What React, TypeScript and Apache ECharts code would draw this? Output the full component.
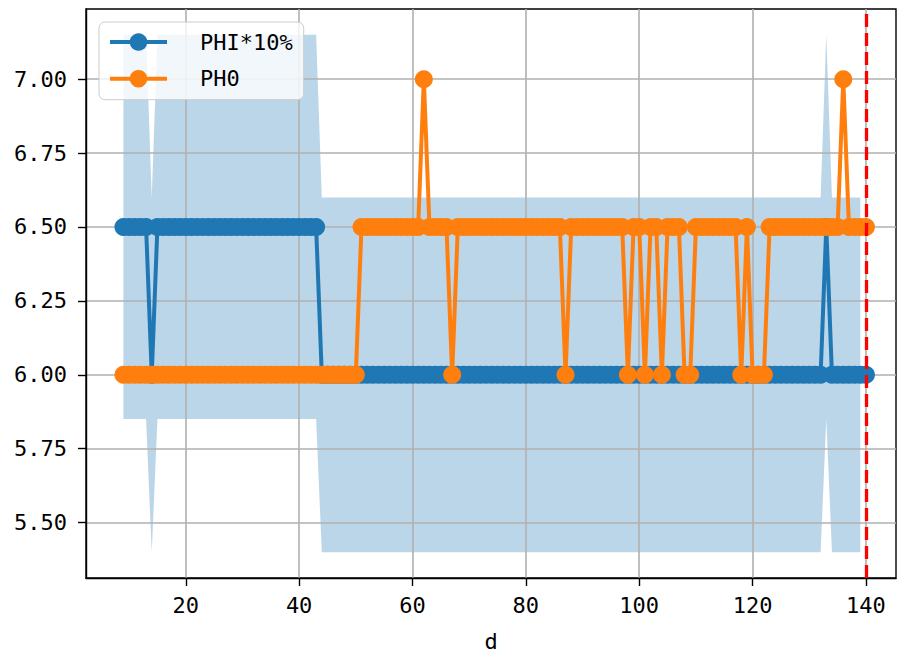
import React, { useEffect, useRef } from 'react';
import * as echarts from 'echarts';

// x values (d)
const days = [
  9, 10, 11, 12, 13, 14, 15, 16, 17, 18,
  19, 20, 21, 22, 23, 24, 25, 26, 27, 28,
  29, 30, 31, 32, 33, 34, 35, 36, 37, 38,
  39, 40, 41, 42, 43, 44, 45, 46, 47, 48,
  49, 50, 51, 52, 53, 54, 55, 56, 57, 58,
  59, 60, 61, 62, 63, 64, 65, 66, 67, 68,
  69, 70, 71, 72, 73, 74, 75, 76, 77, 78,
  79, 80, 81, 82, 83, 84, 85, 86, 87, 88,
  89, 90, 91, 92, 93, 94, 95, 96, 97, 98,
  99, 100, 101, 102, 103, 104, 105, 106, 107, 108,
  109, 110, 111, 112, 113, 114, 115, 116, 117, 118,
  119, 120, 121, 122, 123, 124, 125, 126, 127, 128,
  129, 130, 131, 132, 133, 134, 135, 136, 137, 138,
  139, 140,
];

// PHI*10%
const phi = [
  6.5, 6.5, 6.5, 6.5, 6.5, 6.0, 6.5, 6.5, 6.5, 6.5,
  6.5, 6.5, 6.5, 6.5, 6.5, 6.5, 6.5, 6.5, 6.5, 6.5,
  6.5, 6.5, 6.5, 6.5, 6.5, 6.5, 6.5, 6.5, 6.5, 6.5,
  6.5, 6.5, 6.5, 6.5, 6.5, 6.0, 6.0, 6.0, 6.0, 6.0,
  6.0, 6.0, 6.0, 6.0, 6.0, 6.0, 6.0, 6.0, 6.0, 6.0,
  6.0, 6.0, 6.0, 6.0, 6.0, 6.0, 6.0, 6.0, 6.0, 6.0,
  6.0, 6.0, 6.0, 6.0, 6.0, 6.0, 6.0, 6.0, 6.0, 6.0,
  6.0, 6.0, 6.0, 6.0, 6.0, 6.0, 6.0, 6.0, 6.0, 6.0,
  6.0, 6.0, 6.0, 6.0, 6.0, 6.0, 6.0, 6.0, 6.0, 6.0,
  6.0, 6.0, 6.0, 6.0, 6.0, 6.0, 6.0, 6.0, 6.0, 6.0,
  6.0, 6.0, 6.0, 6.0, 6.0, 6.0, 6.0, 6.0, 6.0, 6.0,
  6.0, 6.0, 6.0, 6.0, 6.0, 6.0, 6.0, 6.0, 6.0, 6.0,
  6.0, 6.0, 6.0, 6.0, 6.5, 6.0, 6.0, 6.0, 6.0, 6.0,
  6.0, 6.0,
];

// PH0
const ph0 = [
  6.0, 6.0, 6.0, 6.0, 6.0, 6.0, 6.0, 6.0, 6.0, 6.0,
  6.0, 6.0, 6.0, 6.0, 6.0, 6.0, 6.0, 6.0, 6.0, 6.0,
  6.0, 6.0, 6.0, 6.0, 6.0, 6.0, 6.0, 6.0, 6.0, 6.0,
  6.0, 6.0, 6.0, 6.0, 6.0, 6.0, 6.0, 6.0, 6.0, 6.0,
  6.0, 6.0, 6.5, 6.5, 6.5, 6.5, 6.5, 6.5, 6.5, 6.5,
  6.5, 6.5, 6.5, 7.0, 6.5, 6.5, 6.5, 6.5, 6.0, 6.5,
  6.5, 6.5, 6.5, 6.5, 6.5, 6.5, 6.5, 6.5, 6.5, 6.5,
  6.5, 6.5, 6.5, 6.5, 6.5, 6.5, 6.5, 6.5, 6.0, 6.5,
  6.5, 6.5, 6.5, 6.5, 6.5, 6.5, 6.5, 6.5, 6.5, 6.0,
  6.5, 6.5, 6.0, 6.5, 6.5, 6.0, 6.5, 6.5, 6.5, 6.0,
  6.0, 6.5, 6.5, 6.5, 6.5, 6.5, 6.5, 6.5, 6.5, 6.0,
  6.5, 6.0, 6.0, 6.0, 6.5, 6.5, 6.5, 6.5, 6.5, 6.5,
  6.5, 6.5, 6.5, 6.5, 6.5, 6.5, 6.5, 7.0, 6.5, 6.5,
  6.5, 6.5,
];

// shaded band (x = 9 .. 139)
const bandLow = [
  5.85, 5.85, 5.85, 5.85, 5.85, 5.4, 5.85, 5.85, 5.85, 5.85,
  5.85, 5.85, 5.85, 5.85, 5.85, 5.85, 5.85, 5.85, 5.85, 5.85,
  5.85, 5.85, 5.85, 5.85, 5.85, 5.85, 5.85, 5.85, 5.85, 5.85,
  5.85, 5.85, 5.85, 5.85, 5.85, 5.4, 5.4, 5.4, 5.4, 5.4,
  5.4, 5.4, 5.4, 5.4, 5.4, 5.4, 5.4, 5.4, 5.4, 5.4,
  5.4, 5.4, 5.4, 5.4, 5.4, 5.4, 5.4, 5.4, 5.4, 5.4,
  5.4, 5.4, 5.4, 5.4, 5.4, 5.4, 5.4, 5.4, 5.4, 5.4,
  5.4, 5.4, 5.4, 5.4, 5.4, 5.4, 5.4, 5.4, 5.4, 5.4,
  5.4, 5.4, 5.4, 5.4, 5.4, 5.4, 5.4, 5.4, 5.4, 5.4,
  5.4, 5.4, 5.4, 5.4, 5.4, 5.4, 5.4, 5.4, 5.4, 5.4,
  5.4, 5.4, 5.4, 5.4, 5.4, 5.4, 5.4, 5.4, 5.4, 5.4,
  5.4, 5.4, 5.4, 5.4, 5.4, 5.4, 5.4, 5.4, 5.4, 5.4,
  5.4, 5.4, 5.4, 5.4, 5.85, 5.4, 5.4, 5.4, 5.4, 5.4,
  5.4,
];
const bandHigh = [
  7.15, 7.15, 7.15, 7.15, 7.15, 6.6, 7.15, 7.15, 7.15, 7.15,
  7.15, 7.15, 7.15, 7.15, 7.15, 7.15, 7.15, 7.15, 7.15, 7.15,
  7.15, 7.15, 7.15, 7.15, 7.15, 7.15, 7.15, 7.15, 7.15, 7.15,
  7.15, 7.15, 7.15, 7.15, 7.15, 6.6, 6.6, 6.6, 6.6, 6.6,
  6.6, 6.6, 6.6, 6.6, 6.6, 6.6, 6.6, 6.6, 6.6, 6.6,
  6.6, 6.6, 6.6, 6.6, 6.6, 6.6, 6.6, 6.6, 6.6, 6.6,
  6.6, 6.6, 6.6, 6.6, 6.6, 6.6, 6.6, 6.6, 6.6, 6.6,
  6.6, 6.6, 6.6, 6.6, 6.6, 6.6, 6.6, 6.6, 6.6, 6.6,
  6.6, 6.6, 6.6, 6.6, 6.6, 6.6, 6.6, 6.6, 6.6, 6.6,
  6.6, 6.6, 6.6, 6.6, 6.6, 6.6, 6.6, 6.6, 6.6, 6.6,
  6.6, 6.6, 6.6, 6.6, 6.6, 6.6, 6.6, 6.6, 6.6, 6.6,
  6.6, 6.6, 6.6, 6.6, 6.6, 6.6, 6.6, 6.6, 6.6, 6.6,
  6.6, 6.6, 6.6, 6.6, 7.15, 6.6, 6.6, 6.6, 6.6, 6.6,
  6.6,
];

const xTicks = [20, 40, 60, 80, 100, 120, 140];
const yTicks = [5.5, 5.75, 6.0, 6.25, 6.5, 6.75, 7.0];
const cutoffDay = 140;

const FONT = "'DejaVu Sans Mono', 'Liberation Mono', monospace";

export default function App() {
  const ref = useRef<HTMLDivElement>(null);
  useEffect(() => {
    if (!ref.current) return;
    const chart = echarts.init(ref.current, null, { renderer: 'svg' });
    const bandDays = days.slice(0, bandLow.length);
    const bandData = bandDays.map((d, i) => [d, bandLow[i], bandHigh[i]]);
    const axisLineStyle = { color: '#000000', width: 1.4 };
    const labelStyle = { fontFamily: FONT, fontSize: 22, color: '#000000' };

    const renderBand = (params: any, api: any) => {
      if (params.dataIndex !== 0) return null;
      const top = bandData.map((p) => api.coord([p[0], p[2]]));
      const bottom = bandData.map((p) => api.coord([p[0], p[1]])).reverse();
      return {
        type: 'polygon',
        shape: { points: top.concat(bottom) },
        style: { fill: '#1f77b4', opacity: 0.3 },
        silent: true,
      };
    };

    chart.setOption({
      animation: false,
      backgroundColor: '#ffffff',
      grid: {
        left: 86, right: 3, top: 9, bottom: 78,
        outerBoundsMode: 'none',
        containLabel: false,
        show: true, borderColor: '#000000', borderWidth: 1.4, backgroundColor: 'transparent',
      },
      legend: {
        data: ['PHI*10%', 'PH0'],
        orient: 'vertical',
        left: 99, top: 22,
        padding: [9, 11, 10, 9],
        itemGap: 14.7,
        itemWidth: 57, itemHeight: 22,
        lineStyle: { width: 4 },
        backgroundColor: 'rgba(255,255,255,0.8)',
        borderColor: '#cccccc', borderWidth: 1, borderRadius: 6,
        textStyle: { ...labelStyle, lineHeight: 22, padding: [0, 0, 0, 28] },
      },
      xAxis: {
        type: 'value',
        min: 2.4, max: 145.3,
        z: 2,
        name: 'd', nameLocation: 'middle', nameGap: 52,
        nameTextStyle: labelStyle,
        axisLine: { show: true, onZero: false, lineStyle: axisLineStyle },
        axisTick: { show: true, length: 8, customValues: xTicks, lineStyle: axisLineStyle },
        axisLabel: { customValues: xTicks, margin: 16, ...labelStyle },
        splitLine: { show: true, lineStyle: { color: '#b0b0b0', width: 1.6 } },
      },
      yAxis: {
        type: 'value',
        min: 5.3125, max: 7.2375,
        z: 2,
        axisLine: { show: true, onZero: false, lineStyle: axisLineStyle },
        axisTick: { show: true, length: 8, customValues: yTicks, lineStyle: axisLineStyle },
        axisLabel: {
          customValues: yTicks, margin: 19, ...labelStyle,
          formatter: (v: number) => v.toFixed(2),
        },
        splitLine: { show: true, lineStyle: { color: '#b0b0b0', width: 1.6 } },
      },
      series: [
        {
          name: 'band', type: 'custom',
          data: bandData,
          encode: { x: 0, y: [1, 2] },
          renderItem: renderBand,
          silent: true,
          z: 1,
        },
        {
          name: 'PHI*10%', type: 'line',
          data: days.map((d, i) => [d, phi[i]]),
          symbol: 'circle', symbolSize: 18,
          lineStyle: { color: '#1f77b4', width: 4 },
          itemStyle: { color: '#1f77b4', borderWidth: 0 },
          z: 3,
        },
        {
          name: 'PH0', type: 'line',
          data: days.map((d, i) => [d, ph0[i]]),
          symbol: 'circle', symbolSize: 18,
          lineStyle: { color: '#ff7f0e', width: 4 },
          itemStyle: { color: '#ff7f0e', borderWidth: 0 },
          z: 4,
          markLine: {
            silent: true, symbol: 'none',
            label: { show: false },
            lineStyle: { color: '#ff0000', type: [13, 6], width: 3.3, opacity: 1 },
            emphasis: { disabled: true },
            data: [{ xAxis: cutoffDay }],
          },
        },
      ],
    });
    return () => chart.dispose();
  }, []);
  return <div ref={ref} style={{ position: 'absolute', left: 0, top: 0, width: 899, height: 656 }} />;
}
